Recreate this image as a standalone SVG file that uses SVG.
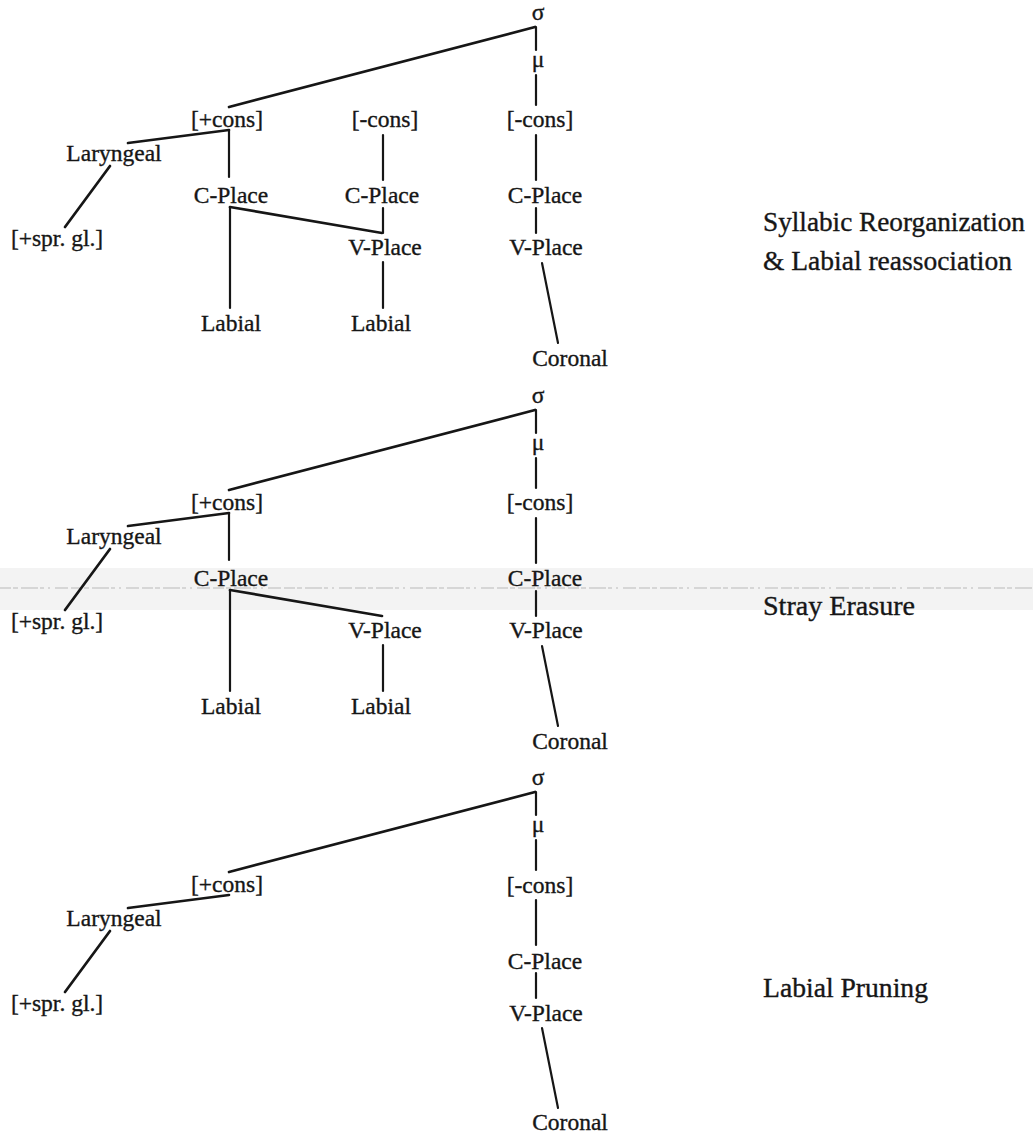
<svg xmlns="http://www.w3.org/2000/svg" width="1033" height="1133" viewBox="0 0 1033 1133">
<style>
.n{font-family:"Liberation Serif","Times New Roman",serif;font-size:23.5px;fill:#161616;stroke:#161616;stroke-width:0.35;text-anchor:middle}
.lbl{font-family:"Liberation Serif","Times New Roman",serif;font-size:27px;fill:#161616;stroke:#161616;stroke-width:0.35}
.c line{stroke:#161616;stroke-width:2.2;stroke-linecap:round}
.c line.d{stroke-width:2.7}
</style>
<rect width="1033" height="1133" fill="#ffffff"/>
<g id="scan-band">
<rect x="0" y="568" width="1033" height="42" fill="#f3f3f3"/>
<line x1="0" y1="588" x2="1033" y2="588" stroke="#c8c8c8" stroke-width="1.6" stroke-dasharray="11 2 5 3 17 2 4 4 2 5 13 3" opacity="0.85"/>
</g>

<g id="connectors" class="c">
<!-- panel 1 -->
<line class="d" x1="535" y1="27" x2="229" y2="107"/>
<line x1="536" y1="27" x2="536" y2="50"/>
<line x1="536" y1="75" x2="536" y2="105"/>
<line x1="536" y1="135" x2="536" y2="180"/>
<line x1="536" y1="208" x2="536" y2="233"/>
<line x1="542" y1="263" x2="558" y2="343"/>
<line class="d" x1="229" y1="130" x2="128" y2="143"/>
<line x1="229" y1="130" x2="229" y2="177"/>
<line class="d" x1="110" y1="166" x2="65" y2="227"/>
<line class="d" x1="230" y1="207" x2="382" y2="233"/>
<line x1="230" y1="207" x2="230" y2="308"/>
<line x1="383" y1="135" x2="383" y2="180"/>
<line x1="383" y1="208" x2="383" y2="233"/>
<line x1="383" y1="262" x2="383" y2="308"/>
<!-- panel 2 -->
<line class="d" x1="535" y1="410" x2="229" y2="490"/>
<line x1="536" y1="410" x2="536" y2="433"/>
<line x1="536" y1="458" x2="536" y2="488"/>
<line x1="536" y1="518" x2="536" y2="563"/>
<line x1="536" y1="591" x2="536" y2="616"/>
<line x1="542" y1="646" x2="558" y2="726"/>
<line class="d" x1="229" y1="513" x2="128" y2="526"/>
<line x1="229" y1="513" x2="229" y2="560"/>
<line class="d" x1="110" y1="549" x2="65" y2="610"/>
<line class="d" x1="230" y1="590" x2="382" y2="616"/>
<line x1="230" y1="590" x2="230" y2="691"/>
<line x1="383" y1="645" x2="383" y2="691"/>
<!-- panel 3 -->
<line class="d" x1="535" y1="792" x2="229" y2="872"/>
<line x1="536" y1="792" x2="536" y2="815"/>
<line x1="536" y1="840" x2="536" y2="870"/>
<line x1="536" y1="900" x2="536" y2="945"/>
<line x1="536" y1="973" x2="536" y2="998"/>
<line x1="542" y1="1028" x2="558" y2="1108"/>
<line class="d" x1="229" y1="895" x2="128" y2="908"/>
<line class="d" x1="110" y1="931" x2="65" y2="992"/>
</g>

<!-- panel 1 nodes -->
<g id="p1-sigma"><text class="n" x="538" y="20">σ</text></g>
<g id="p1-mu"><text class="n" x="538" y="67">μ</text></g>
<g id="p1-cons-plus"><text class="n" x="227" y="127">[+cons]</text></g>
<g id="p1-cons-minus-mid"><text class="n" x="385" y="127">[-cons]</text></g>
<g id="p1-cons-minus-right"><text class="n" x="540" y="127">[-cons]</text></g>
<g id="p1-laryngeal"><text class="n" x="114" y="161">Laryngeal</text></g>
<g id="p1-spr-gl"><text class="n" x="57" y="246">[+spr. gl.]</text></g>
<g id="p1-cplace-left"><text class="n" x="231" y="203">C-Place</text></g>
<g id="p1-cplace-mid"><text class="n" x="382" y="203">C-Place</text></g>
<g id="p1-cplace-right"><text class="n" x="545" y="203">C-Place</text></g>
<g id="p1-vplace-mid"><text class="n" x="385" y="255">V-Place</text></g>
<g id="p1-vplace-right"><text class="n" x="546" y="255">V-Place</text></g>
<g id="p1-labial-left"><text class="n" x="231" y="331">Labial</text></g>
<g id="p1-labial-mid"><text class="n" x="381" y="331">Labial</text></g>
<g id="p1-coronal"><text class="n" x="570" y="366">Coronal</text></g>
<g id="p1-label">
<text class="lbl" x="763" y="231" textLength="262" lengthAdjust="spacingAndGlyphs">Syllabic Reorganization</text>
<text class="lbl" x="763" y="270" textLength="249" lengthAdjust="spacingAndGlyphs">&amp; Labial reassociation</text>
</g>

<!-- panel 2 nodes -->
<g id="p2-sigma"><text class="n" x="538" y="403">σ</text></g>
<g id="p2-mu"><text class="n" x="538" y="450">μ</text></g>
<g id="p2-cons-plus"><text class="n" x="227" y="510">[+cons]</text></g>
<g id="p2-cons-minus-right"><text class="n" x="540" y="510">[-cons]</text></g>
<g id="p2-laryngeal"><text class="n" x="114" y="544">Laryngeal</text></g>
<g id="p2-spr-gl"><text class="n" x="57" y="629">[+spr. gl.]</text></g>
<g id="p2-cplace-left"><text class="n" x="231" y="586">C-Place</text></g>
<g id="p2-cplace-right"><text class="n" x="545" y="586">C-Place</text></g>
<g id="p2-vplace-mid"><text class="n" x="385" y="638">V-Place</text></g>
<g id="p2-vplace-right"><text class="n" x="546" y="638">V-Place</text></g>
<g id="p2-labial-left"><text class="n" x="231" y="714">Labial</text></g>
<g id="p2-labial-mid"><text class="n" x="381" y="714">Labial</text></g>
<g id="p2-coronal"><text class="n" x="570" y="749">Coronal</text></g>
<g id="p2-label"><text class="lbl" x="763" y="615" textLength="152" lengthAdjust="spacingAndGlyphs">Stray Erasure</text></g>

<!-- panel 3 nodes -->
<g id="p3-sigma"><text class="n" x="538" y="785">σ</text></g>
<g id="p3-mu"><text class="n" x="538" y="832">μ</text></g>
<g id="p3-cons-plus"><text class="n" x="227" y="892">[+cons]</text></g>
<g id="p3-cons-minus-right"><text class="n" x="540" y="893">[-cons]</text></g>
<g id="p3-laryngeal"><text class="n" x="114" y="926">Laryngeal</text></g>
<g id="p3-spr-gl"><text class="n" x="57" y="1011">[+spr. gl.]</text></g>
<g id="p3-cplace-right"><text class="n" x="545" y="969">C-Place</text></g>
<g id="p3-vplace-right"><text class="n" x="546" y="1021">V-Place</text></g>
<g id="p3-coronal"><text class="n" x="570" y="1130">Coronal</text></g>
<g id="p3-label"><text class="lbl" x="763" y="997" textLength="165" lengthAdjust="spacingAndGlyphs">Labial Pruning</text></g>
</svg>
